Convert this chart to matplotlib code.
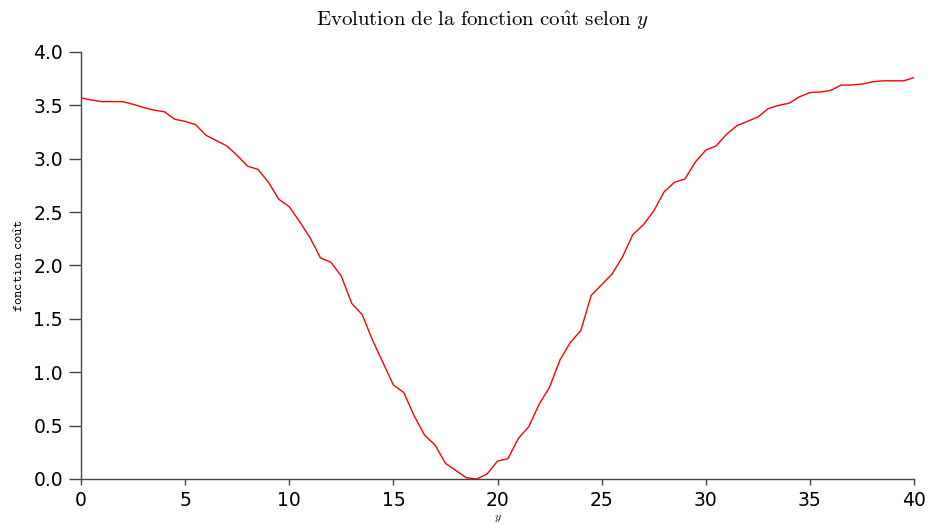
import numpy as np
import matplotlib
matplotlib.use('Agg')
import matplotlib.pyplot as plt

plt.rcParams['mathtext.fontset'] = 'cm'

# valeurs lues sur la courbe, pas de 0.5
y_vals = np.arange(0, 40.5, 0.5)
cout = [3.57, 3.55, 3.535, 3.535, 3.535, 3.51, 3.48, 3.455, 3.44, 3.37,
        3.35, 3.32, 3.22, 3.17, 3.12, 3.03, 2.93, 2.90, 2.78, 2.62,
        2.55, 2.41, 2.26, 2.07, 2.03, 1.90, 1.645, 1.54, 1.30, 1.09,
        0.88, 0.81, 0.59, 0.41, 0.318, 0.147, 0.08, 0.012, 0.0, 0.047,
        0.168, 0.19, 0.38, 0.49, 0.70, 0.86, 1.115, 1.28, 1.39, 1.72,
        1.82, 1.92, 2.08, 2.29, 2.38, 2.51, 2.69, 2.78, 2.81, 2.97,
        3.08, 3.12, 3.23, 3.31, 3.35, 3.39, 3.47, 3.50, 3.52, 3.58,
        3.62, 3.625, 3.64, 3.69, 3.69, 3.70, 3.72, 3.73, 3.73, 3.73,
        3.76]

fig = plt.figure(figsize=(9.3, 5.24), dpi=100)
ax = fig.add_axes([0.0871, 0.0859, 0.8957, 0.8149])
ax.plot(y_vals, cout, color='red', lw=1.0)

ax.set_xlim(0, 40)
ax.set_ylim(0, 4)
ax.set_xticks([0, 5, 10, 15, 20, 25, 30, 35, 40])
ax.set_yticks([0.0, 0.5, 1.0, 1.5, 2.0, 2.5, 3.0, 3.5, 4.0])
ax.set_yticklabels(['0.0', '0.5', '1.0', '1.5', '2.0', '2.5', '3.0', '3.5', '4.0'])

for s in ['top', 'right']:
    ax.spines[s].set_visible(False)
for s in ['left', 'bottom']:
    ax.spines[s].set_color('#444444')
    ax.spines[s].set_linewidth(1.0)

ax.tick_params(axis='y', direction='out', length=9, width=1.0, color='#444444', pad=4)
ax.tick_params(axis='x', direction='out', length=4.5, width=1.0, color='#444444', pad=4)
for lab in ax.get_xticklabels() + ax.get_yticklabels():
    lab.set_family('DejaVu Sans')
    lab.set_fontsize(13.5)

ax.set_title(r'$\mathrm{Evolution\ de\ la\ fonction\ co\hat{u}t\ selon\ }y$',
             fontsize=15, x=0.482, pad=19)
ax.set_xlabel(r'$y$', fontsize=8.5, labelpad=1)
ax.set_ylabel(r'$\mathtt{fonction\ co\hat{u}t}$', fontsize=10, labelpad=5)

fig.savefig('out.png', dpi=100)
